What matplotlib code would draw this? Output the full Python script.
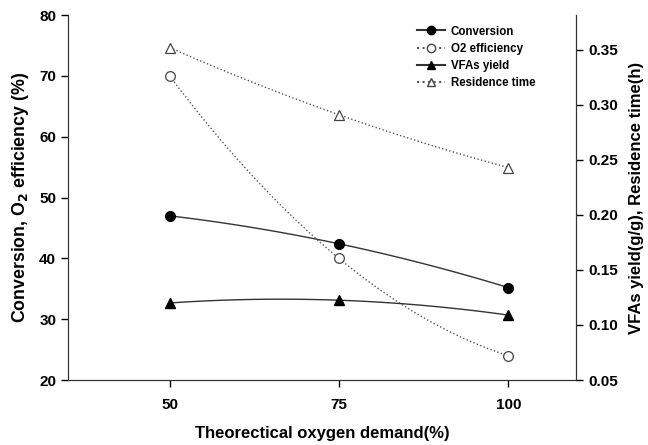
import numpy as np
import matplotlib.pyplot as plt
from matplotlib.lines import Line2D

plt.rcParams['font.family'] = ['Liberation Sans', 'DejaVu Sans']
plt.rcParams['font.weight'] = 'bold'

tod = [50, 75, 100]
conversion = [47.0, 42.4, 35.2]
o2_eff = [70.0, 40.0, 24.0]
vfa_yield = [0.120, 0.1225, 0.109]
res_time = [0.352, 0.291, 0.243]


def smooth(x, y):
    # quadratic through the three points, like the original's smoothed line
    c = np.polyfit(x, y, 2)
    xs = np.linspace(min(x), max(x), 100)
    return xs, np.polyval(c, xs)


fig = plt.figure(figsize=(6.48, 4.45), dpi=100)
ax = fig.add_axes([0.105, 0.146, 0.784, 0.820])
ax2 = ax.twinx()

lc = '#333333'
xs, ys = smooth(tod, conversion)
ax.plot(xs, ys, '-', color=lc, lw=1)
ax.plot(tod, conversion, 'o', color='black', ms=7)
xs, ys = smooth(tod, o2_eff)
ax.plot(xs, ys, ':', color='#555555', lw=1)
ax.plot(tod, o2_eff, 'o', mfc='white', mec='#444444', ms=7, mew=0.9)

xs, ys = smooth(tod, vfa_yield)
ax2.plot(xs, ys, '-', color=lc, lw=1)
ax2.plot(tod, vfa_yield, '^', color='black', ms=7)
xs, ys = smooth(tod, res_time)
ax2.plot(xs, ys, ':', color='#555555', lw=1)
ax2.plot(tod, res_time, '^', mfc='white', mec='#444444', ms=7, mew=0.9)

ax.set_xlim(35, 110)
ax.set_ylim(20, 80)
ax2.set_ylim(0.05, 0.3815)
ax.set_xticks(tod)
ax.set_yticks(range(20, 81, 10))
ax2.set_yticks(np.arange(0.05, 0.351, 0.05))
ax2.set_yticklabels(['%.2f' % v for v in np.arange(0.05, 0.351, 0.05)])

for a in (ax, ax2):
    a.spines['top'].set_visible(False)
    a.tick_params(direction='out', length=5, width=1, labelsize=11)
    for s in a.spines.values():
        s.set_color('#333333')
ax.tick_params(axis='x', pad=8)

ax.set_xlabel('Theorectical oxygen demand(%)', fontsize=12, fontweight='bold', labelpad=10)
ax.set_ylabel('Conversion, O$_\\mathbf{2}$ efficiency (%)', fontsize=12.8, fontweight='bold', labelpad=6)
ax2.set_ylabel('VFAs yield(g/g), Residence time(h)', fontsize=12, fontweight='bold', labelpad=8)

handles = [
    Line2D([], [], ls='-', color=lc, marker='o', mfc='black', mec='black', ms=6),
    Line2D([], [], ls=':', color='#555555', marker='o', mfc='white', mec='#444444', ms=6),
    Line2D([], [], ls='-', color=lc, marker='^', mfc='black', mec='black', ms=6),
    Line2D([], [], ls=':', color='#555555', marker='^', mfc='white', mec='#444444', ms=6),
]
labels = ['Conversion', 'O2 efficiency', 'VFAs yield', 'Residence time']
ax.legend(handles, labels, loc='upper right', bbox_to_anchor=(0.94, 1.0), frameon=False,
          prop={'size': 8.3, 'weight': 'bold'}, handlelength=2.4, labelspacing=0.45,
          handletextpad=0.5)

fig.savefig('out.png', dpi=100)
